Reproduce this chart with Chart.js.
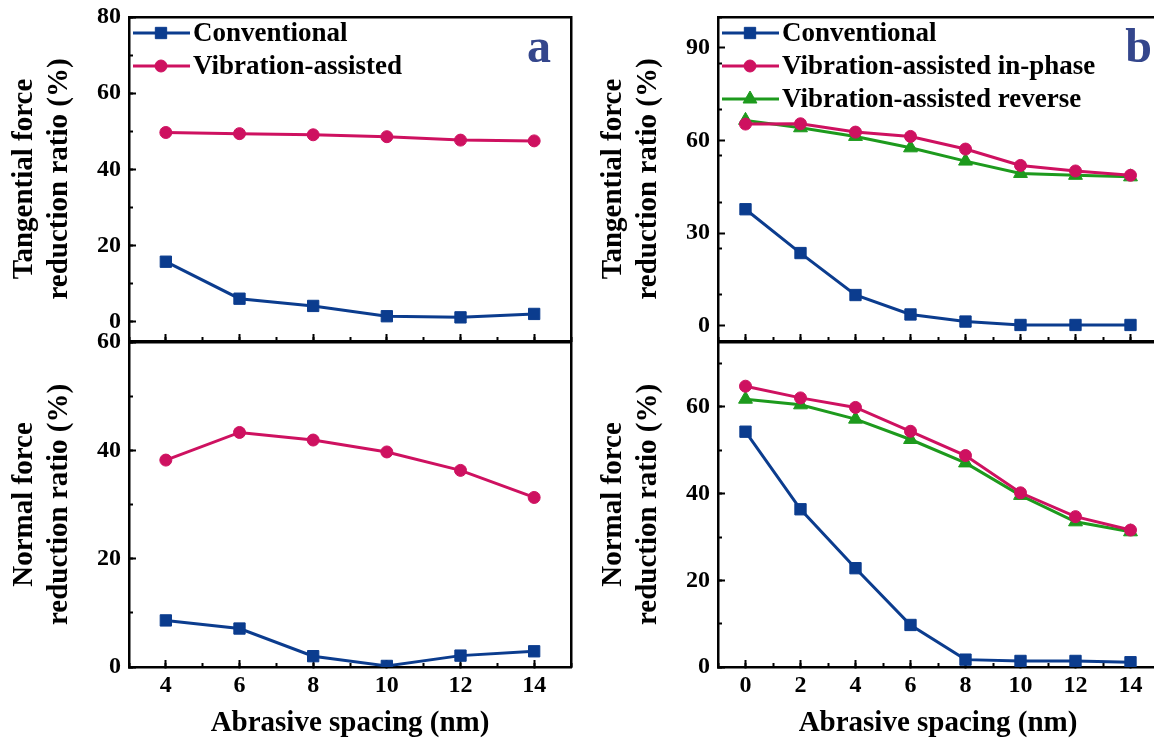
<!DOCTYPE html>
<html>
<head>
<meta charset="utf-8">
<script src="https://cdn.jsdelivr.net/npm/chart.js@4.4.1/dist/chart.umd.min.js"></script>
<style>
  html, body { margin: 0; padding: 0; background: #fff; overflow: hidden; }
  #wrap { position: relative; width: 1154px; height: 744px; overflow: hidden; }
  canvas { position: absolute; }
</style>
</head>
<body>
<div id="wrap">
  <canvas id="aTop" width="600" height="350" style="left:0px;top:0px"></canvas>
  <canvas id="aBottom" width="600" height="419" style="left:0px;top:325px"></canvas>
  <canvas id="bTop" width="600" height="350" style="left:589px;top:0px"></canvas>
  <canvas id="bBottom" width="600" height="419" style="left:589px;top:325px"></canvas>
</div>
<script>
// panel a
const spacingA = [4, 6, 8, 10, 12, 14];
const tangentialConvA = [15.8, 6.1, 4.2, 1.5, 1.2, 2.1];
const tangentialVibA = [49.7, 49.4, 49.1, 48.6, 47.7, 47.5];
const normalConvA = [8.6, 7.1, 2.0, 0.2, 2.1, 2.9];
const normalVibA = [38.2, 43.3, 41.9, 39.7, 36.3, 31.3];

// panel b
const spacingB = [0, 2, 4, 6, 8, 10, 12, 14];
const tangentialConvB = [37.7, 23.5, 9.9, 3.6, 1.3, 0.2, 0.2, 0.2];
const tangentialInPhaseB = [65.3, 65.4, 62.7, 61.3, 57.2, 51.9, 50.1, 48.7];
const tangentialReverseB = [66.5, 64.1, 61.3, 57.6, 53.3, 49.3, 48.7, 48.2];
const normalConvB = [54.3, 36.4, 22.8, 9.7, 1.7, 1.4, 1.4, 1.1];
const normalInPhaseB = [64.8, 62.1, 59.9, 54.4, 48.8, 40.2, 34.7, 31.6];
const normalReverseB = [61.8, 60.5, 57.2, 52.5, 47.1, 39.6, 33.5, 31.2];

// tick labels
const xTicksA = [4, 6, 8, 10, 12, 14];
const xTicksB = [0, 2, 4, 6, 8, 10, 12, 14];
const yTicksATop = [0, 20, 40, 60, 80];
const yTicksABottom = [0, 20, 40, 60];
const yTicksBTop = [0, 30, 60, 90];
const yTicksBBottom = [0, 20, 40, 60];

const BLUE = '#0B3C8E';
const PINK = '#CE1160';
const GREEN = '#1D9A1D';
const FONT = '"Liberation Serif", "Times New Roman", serif';

Chart.defaults.font.family = FONT;
Chart.defaults.font.weight = 'bold';
Chart.defaults.color = '#000';

function series(label, xs, ys, color, style, radius) {
  return {
    label: label,
    data: xs.map((x, i) => ({ x: x, y: ys[i] })),
    borderColor: color,
    backgroundColor: color,
    borderWidth: 3,
    pointStyle: style,
    pointRadius: radius,
    pointBorderWidth: 1,
    pointBackgroundColor: color,
    pointBorderColor: color,
    tension: 0
  };
}

// legend drawn Origin-style (line with marker), plus panel letter
const decorPlugin = {
  id: 'decor',
  afterDraw(chart, args, opts) {
    const ctx = chart.ctx;
    const area = chart.chartArea;
    ctx.save();
    if (opts.legend) {
      chart.data.datasets.forEach((ds, i) => {
        const y = area.top + 16 + i * 33;
        const x0 = area.left + 4;
        ctx.strokeStyle = ds.borderColor;
        ctx.lineWidth = 3;
        ctx.beginPath();
        ctx.moveTo(x0, y);
        ctx.lineTo(x0 + 57, y);
        ctx.stroke();
        ctx.fillStyle = ds.borderColor;
        ctx.strokeStyle = ds.borderColor;
        ctx.lineWidth = 1;
        Chart.helpers.drawPoint(ctx, { pointStyle: ds.pointStyle, radius: ds.pointRadius, rotation: 0, borderWidth: 1 }, x0 + 28, y);
        ctx.fillStyle = '#000';
        ctx.font = 'bold 27px ' + FONT;
        ctx.textAlign = 'left';
        ctx.textBaseline = 'middle';
        ctx.fillText(ds.label, area.left + 64, y + 1);
      });
    }
    if (opts.letter) {
      ctx.fillStyle = '#34468C';
      ctx.font = 'bold 48px ' + FONT;
      ctx.textAlign = 'right';
      ctx.textBaseline = 'alphabetic';
      ctx.fillText(opts.letter, area.right - opts.letterInset, area.top + 45);
    }
    ctx.restore();
  }
};

function frameAxis(pos, min, max) {
  return {
    type: 'linear', position: pos, min: min, max: max,
    ticks: { display: false },
    grid: { display: true, drawOnChartArea: false, drawTicks: false },
    border: { display: true, color: '#000', width: 2.5 },
    afterFit: s => {
      if (s.isHorizontal()) s.height = 0; else s.width = 0;
      s.paddingTop = s.paddingBottom = s.paddingLeft = s.paddingRight = 0;
    }
  };
}

function makePanel(id, p) {
  const xAxisHeight = p.canvasH - p.padTop - p.plotH;
  return new Chart(document.getElementById(id), {
    type: 'line',
    data: { datasets: p.datasets },
    plugins: [decorPlugin],
    options: {
      responsive: false,
      animation: false,
      devicePixelRatio: 1,
      layout: { padding: { left: 0, top: p.padTop, right: p.padRight, bottom: 0 } },
      plugins: {
        legend: { display: false },
        tooltip: { enabled: false },
        decor: { legend: p.legend, letter: p.letter, letterInset: p.letterInset }
      },
      scales: {
        x: {
          type: 'linear', position: 'bottom', min: p.xMin, max: p.xMax, weight: 0,
          afterBuildTicks: s => { s.ticks = p.xTicks.map(v => ({ value: v })); },
          afterFit: s => { s.height = xAxisHeight; s.paddingLeft = s.paddingRight = 0; },
          grid: { drawOnChartArea: false, tickLength: -7, tickWidth: 2, tickColor: '#000' },
          border: { display: true, color: '#000', width: 2.5 },
          ticks: { display: p.showX, padding: 11.5, font: { size: 24, weight: 'bold' } },
          title: { display: p.showX, text: 'Abrasive spacing (nm)', font: { size: 29, weight: 'bold' }, padding: { top: 0, bottom: 3 } }
        },
        xMinor: {
          type: 'linear', position: 'bottom', min: p.xMin, max: p.xMax, weight: -1,
          ticks: { display: false, stepSize: 1, includeBounds: false },
          grid: { drawOnChartArea: false, tickLength: -4, tickWidth: 2, tickColor: '#000' },
          border: { display: false },
          afterFit: s => { s.height = 0; s.paddingLeft = s.paddingRight = 0; }
        },
        xTop: frameAxis('top', p.xMin, p.xMax),
        y: {
          type: 'linear', position: 'left', min: p.yMin, max: p.yMax, weight: 0,
          afterBuildTicks: s => { s.ticks = p.yTicks.map(v => ({ value: v })); },
          afterFit: s => { s.width = 129; s.paddingTop = s.paddingBottom = 0; },
          grid: { drawOnChartArea: false, tickLength: -7, tickWidth: 2, tickColor: '#000' },
          border: { display: true, color: '#000', width: 2.5 },
          ticks: { padding: 15, font: { size: 24, weight: 'bold' } },
          title: { display: true, text: p.yTitle, font: { size: 29, weight: 'bold', lineHeight: 1.2 }, padding: { top: 7, bottom: 0 } }
        },
        yMinor: {
          type: 'linear', position: 'left', min: p.yMin, max: p.yMax, weight: -1,
          ticks: { display: false, stepSize: p.yMinorStep, includeBounds: false },
          grid: { drawOnChartArea: false, tickLength: -4, tickWidth: 2, tickColor: '#000' },
          border: { display: false },
          afterFit: s => { s.width = 0; s.paddingTop = s.paddingBottom = 0; }
        },
        yRight: frameAxis('right', p.yMin, p.yMax)
      }
    }
  });
}

makePanel('aTop', {
  datasets: [
    series('Conventional', spacingA, tangentialConvA, BLUE, 'rect', 8),
    series('Vibration-assisted', spacingA, tangentialVibA, PINK, 'circle', 6)
  ],
  xMin: 3, xMax: 15, xTicks: xTicksA, showX: false,
  yMin: -5, yMax: 80, yTicks: yTicksATop, yMinorStep: 10,
  yTitle: ['Tangential force', 'reduction ratio (%)'],
  canvasH: 350, padTop: 17, plotH: 325, padRight: 29,
  legend: true, letter: 'a', letterInset: 20
});

makePanel('aBottom', {
  datasets: [
    series('Conventional', spacingA, normalConvA, BLUE, 'rect', 8),
    series('Vibration-assisted', spacingA, normalVibA, PINK, 'circle', 6)
  ],
  xMin: 3, xMax: 15, xTicks: xTicksA, showX: true,
  yMin: 0, yMax: 60, yTicks: yTicksABottom, yMinorStep: 10,
  yTitle: ['Normal force', 'reduction ratio (%)'],
  canvasH: 419, padTop: 17, plotH: 325, padRight: 29,
  legend: false, letter: null
});

makePanel('bTop', {
  datasets: [
    series('Conventional', spacingB, tangentialConvB, BLUE, 'rect', 8),
    series('Vibration-assisted in-phase', spacingB, tangentialInPhaseB, PINK, 'circle', 6),
    series('Vibration-assisted reverse', spacingB, tangentialReverseB, GREEN, 'triangle', 8)
  ],
  xMin: -1, xMax: 15, xTicks: xTicksB, showX: false,
  yMin: -5, yMax: 100, yTicks: yTicksBTop, yMinorStep: 15,
  yTitle: ['Tangential force', 'reduction ratio (%)'],
  canvasH: 350, padTop: 17, plotH: 325, padRight: 31,
  legend: true, letter: 'b', letterInset: 6
});

makePanel('bBottom', {
  datasets: [
    series('Conventional', spacingB, normalConvB, BLUE, 'rect', 8),
    series('Vibration-assisted in-phase', spacingB, normalInPhaseB, PINK, 'circle', 6),
    series('Vibration-assisted reverse', spacingB, normalReverseB, GREEN, 'triangle', 8)
  ],
  xMin: -1, xMax: 15, xTicks: xTicksB, showX: true,
  yMin: 0, yMax: 75, yTicks: yTicksBBottom, yMinorStep: 10,
  yTitle: ['Normal force', 'reduction ratio (%)'],
  canvasH: 419, padTop: 17, plotH: 325, padRight: 31,
  legend: false, letter: null
});
</script>
</body>
</html>
